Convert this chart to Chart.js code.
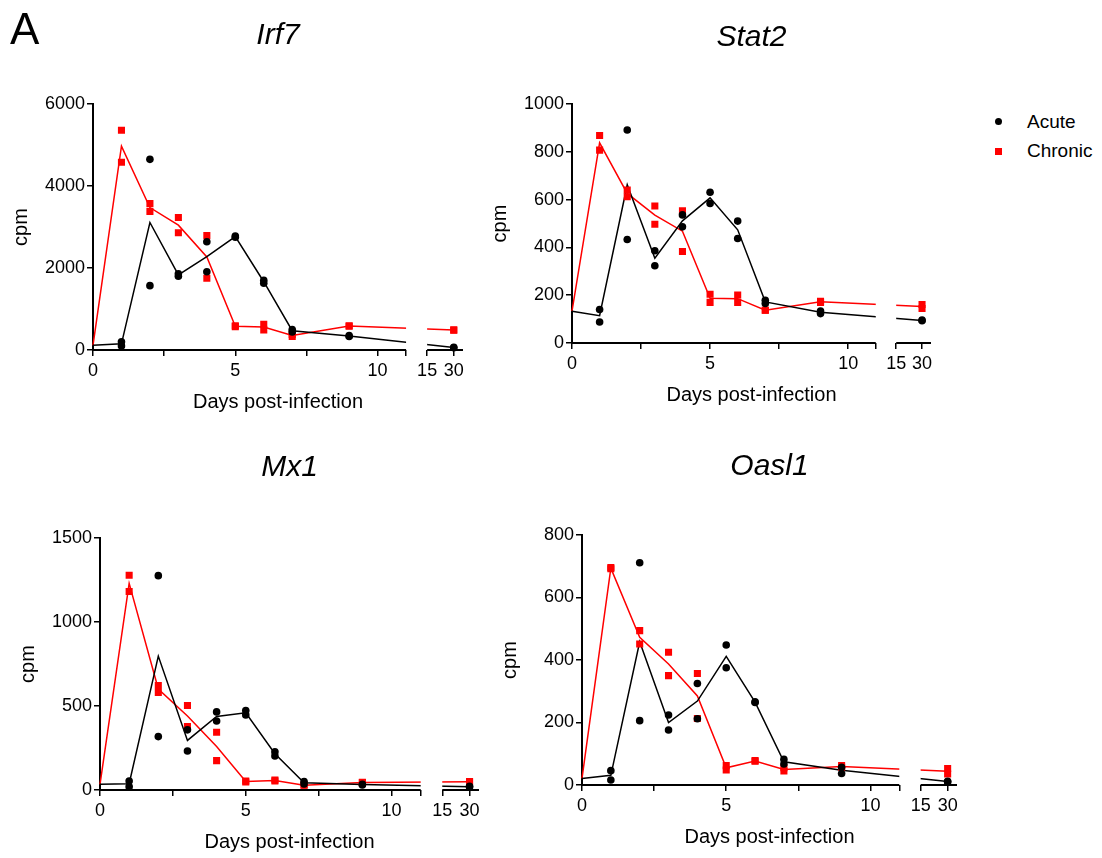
<!DOCTYPE html>
<html>
<head>
<meta charset="utf-8">
<script src="https://cdn.jsdelivr.net/npm/chart.js@4.4.1/dist/chart.umd.min.js"></script>
<style>
  body { margin: 0; background: #fff; font-family: "Liberation Sans", Arial, sans-serif; }
  #page { position: relative; width: 1102px; height: 858px; overflow: hidden; }
  #page canvas { position: absolute; }
  .panelTag { position: absolute; z-index: 2; left: 10px; top: 4px; font-family: "Liberation Sans", Arial, sans-serif; font-size: 44px; line-height: normal; }
  .leg { position: absolute; left: 1027px; font-size: 19px; line-height: 19px; }
  .leg i { position: absolute; left: -32px; }
  .dot { top: 6px; width: 7px; height: 7px; border-radius: 50%; background: #000; }
  .sq { top: 7px; width: 7px; height: 7px; background: #ff0000; }
</style>
</head>
<body>
<div id="page">
  <div class="panelTag">A</div>
  <div class="leg" style="top:112px"><i class="dot"></i>Acute</div>
  <div class="leg" style="top:141px"><i class="sq"></i>Chronic</div>
</div>
<script>
// days sampled after infection (two mice per day)
const sampleDays = [1, 2, 3, 4, 5, 6, 7, 9, 30];

// x axis ticks
const xTickDays = [0, 2.5, 5, 7.5, 10, 11, 15, 30];
const xTickLabels = ["0", "", "5", "", "10", "", "15", "30"];

// Irf7
const irf7Day0 = 115;
const irf7Acute = [[200, 100], [4650, 1570], [1860, 1800], [2640, 1910], [2780, 2750], [1700, 1630], [500, 440], [350, 330], [65, 55]];
const irf7Chronic = [[5360, 4580], [3570, 3380], [3230, 2860], [2790, 1750], [590, 570], [630, 490], [380, 330], [590, 580], [490, 480]];

// Stat2
const stat2Day0 = 133;
const stat2Acute = [[140, 88], [891, 433], [386, 323], [536, 486], [631, 584], [510, 437], [179, 165], [134, 123], [96, 93]];
const stat2Chronic = [[868, 807], [640, 612], [573, 497], [553, 383], [204, 170], [201, 170], [137, 137], [175, 170], [161, 144]];

// Mx1
const mx1Day0 = 34;
const mx1Acute = [[54, 20], [1276, 318], [358, 232], [465, 411], [473, 447], [228, 203], [50, 36], [34, 30], [22, 18]];
const mx1Chronic = [[1278, 1182], [622, 580], [503, 378], [344, 175], [54, 48], [60, 54], [30, 28], [46, 44], [50, 48]];

// Oasl1
const oasl1Day0 = 21;
const oasl1Acute = [[46, 16], [711, 206], [224, 176], [325, 212], [448, 375], [266, 264], [82, 67], [57, 37], [12, 10]];
const oasl1Chronic = [[696, 692], [494, 451], [425, 350], [357, 213], [62, 48], [78, 76], [55, 45], [62, 57], [53, 35]];

// y axis ranges
const yMaxes = [6000, 1000, 1500, 800];
const ySteps = [2000, 200, 500, 200];

// 축 끊김 (11일 ~ 15일 사이)
const breakFrom = 11, breakTo = 15, breakGap = 0.74, tailRate = 0.0624;
const xMax = 35.2;

function squeeze(d) {
  if (d <= breakFrom) return d;
  if (d >= breakTo) return breakFrom + breakGap + (d - breakTo) * tailRate;
  return breakFrom + (d - breakFrom) / (breakTo - breakFrom) * breakGap;
}
function unsqueeze(t) {
  if (t <= breakFrom) return t;
  if (t >= breakFrom + breakGap) return breakTo + (t - breakFrom - breakGap) / tailRate;
  return breakFrom + (t - breakFrom) / breakGap * (breakTo - breakFrom);
}

class BrokenDaysScale extends Chart.LinearScale {
  static id = "brokenDays";
  getPixelForValue(value) {
    return this.getPixelForDecimal(squeeze(value) / squeeze(this.max));
  }
  getValueForPixel(pixel) {
    return unsqueeze(this.getDecimalForPixel(pixel) * squeeze(this.max));
  }
}
Chart.register(BrokenDaysScale);

// x축 선을 두 토막으로 그리고, 끊긴 구간의 선은 잘라냄
const axisBreak = {
  id: "axisBreak",
  beforeDatasetsDraw(chart) {
    const { ctx, chartArea: a, scales: { x } } = chart;
    const x1 = x.getPixelForValue(breakFrom);
    const x2 = x.getPixelForValue(breakTo);
    ctx.save();
    ctx.strokeStyle = "#000";
    ctx.lineWidth = 2;
    ctx.beginPath();
    ctx.moveTo(a.left - 1, a.bottom);
    ctx.lineTo(x1, a.bottom);
    ctx.moveTo(x2, a.bottom);
    ctx.lineTo(a.right, a.bottom);
    ctx.stroke();
    ctx.restore();
    ctx.save();
    ctx.beginPath();
    ctx.rect(0, 0, x1, chart.height);
    ctx.rect(x2, 0, chart.width - x2, chart.height);
    ctx.clip();
  },
  afterDatasetsDraw(chart) {
    chart.ctx.restore();
  },
};

function replicatePoints(reps) {
  const pts = [];
  reps.forEach((pair, i) => pair.forEach((v) => pts.push({ x: sampleDays[i], y: v })));
  return pts;
}
function meanLine(day0, reps) {
  const pts = [{ x: 0, y: day0 }];
  reps.forEach((pair, i) => pts.push({ x: sampleDays[i], y: pair.reduce((s, v) => s + v, 0) / pair.length }));
  return pts;
}

Chart.defaults.font.family = '"Liberation Sans", Arial, sans-serif';
Chart.defaults.color = "#000";

const genes = [
  { title: "Irf7", day0: irf7Day0, acute: irf7Acute, chronic: irf7Chronic },
  { title: "Stat2", day0: stat2Day0, acute: stat2Acute, chronic: stat2Chronic },
  { title: "Mx1", day0: mx1Day0, acute: mx1Acute, chronic: mx1Chronic },
  { title: "Oasl1", day0: oasl1Day0, acute: oasl1Acute, chronic: oasl1Chronic },
];

// plot area boxes [left, top, right, bottom] and title middle, page pixels
const plotBoxes = [[93, 104, 463, 350], [572, 104, 931, 343], [100, 538, 479, 790], [582, 535, 957, 785]];
const titleMids = [36, 38, 468, 467];

const page = document.getElementById("page");

genes.forEach((g, k) => {
  const [l, t, r, b] = plotBoxes[k];
  const left = l - 90;
  const top = titleMids[k] - 28;
  const canvas = document.createElement("canvas");
  canvas.width = r + 20 - left;
  canvas.height = b + 70 - top;
  canvas.style.left = left + "px";
  canvas.style.top = top + "px";
  page.appendChild(canvas);

  new Chart(canvas, {
    type: "scatter",
    data: {
      datasets: [
        { label: "Acute", data: replicatePoints(g.acute), pointStyle: "circle", pointRadius: 3.8, backgroundColor: "#000", borderColor: "#000", borderWidth: 0, clip: false },
        { label: "Chronic", data: replicatePoints(g.chronic), pointStyle: "rect", pointRadius: 5, backgroundColor: "#ff0000", borderColor: "#ff0000", borderWidth: 0, clip: false },
        { label: "Acute mean", data: meanLine(g.day0, g.acute), showLine: true, pointRadius: 0, borderColor: "#000", borderWidth: 1.5, tension: 0, clip: false },
        { label: "Chronic mean", data: meanLine(g.day0, g.chronic), showLine: true, pointRadius: 0, borderColor: "#ff0000", borderWidth: 1.5, tension: 0, clip: false },
      ],
    },
    options: {
      responsive: false,
      animation: false,
      events: [],
      layout: { padding: { left: 0, top: 0, right: 20, bottom: 0 } },
      plugins: {
        legend: { display: false },
        tooltip: { enabled: false },
        title: {
          display: true,
          text: g.title,
          fullSize: false,
          color: "#000",
          font: { size: 30, style: "italic", weight: "normal" },
          padding: { top: 10, bottom: t - titleMids[k] - 18 },
        },
      },
      scales: {
        x: {
          type: "brokenDays",
          min: 0,
          max: xMax,
          bounds: "data",
          afterBuildTicks: (s) => { s.ticks = xTickDays.map((v) => ({ value: v })); },
          afterFit: (s) => { s.height = 70; },
          ticks: { autoSkip: false, maxRotation: 0, padding: 4, font: { size: 18 }, callback: (v, i) => xTickLabels[i] },
          grid: { drawOnChartArea: false, tickLength: 6, color: "#000", lineWidth: 1.5 },
          border: { display: false },
          title: { display: true, text: "Days post-infection", font: { size: 20 }, padding: { top: 0, bottom: 6 } },
        },
        y: {
          min: 0,
          max: yMaxes[k],
          afterFit: (s) => { s.width = 90; },
          ticks: { stepSize: ySteps[k], padding: 2, font: { size: 18 }, callback: (v) => String(v) },
          grid: { drawOnChartArea: false, tickLength: 6, color: "#000", lineWidth: 1.5 },
          border: { display: true, color: "#000", width: 2 },
          title: { display: true, text: "cpm", font: { size: 20 }, padding: { top: 6, bottom: 0 } },
        },
      },
    },
    plugins: [axisBreak],
  });
});
</script>
</body>
</html>
